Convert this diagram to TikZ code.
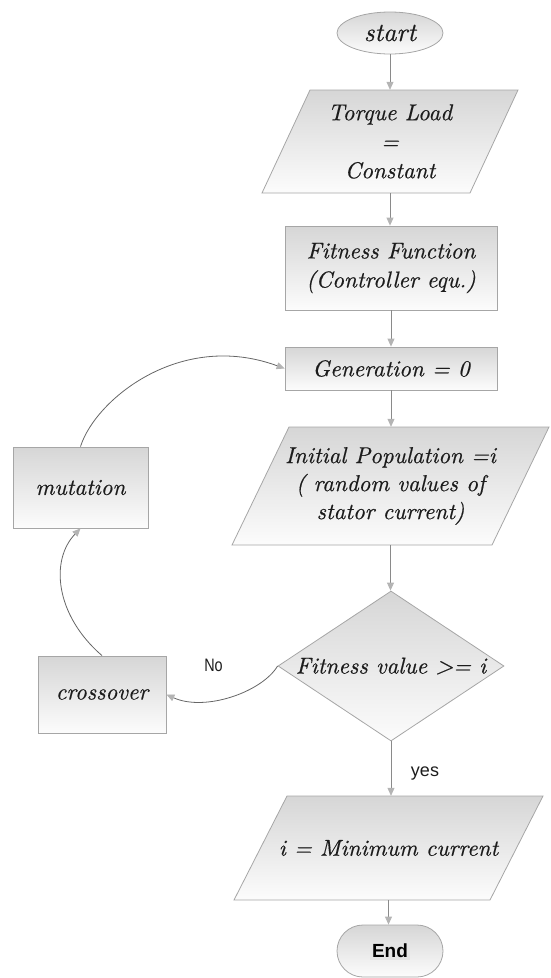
\documentclass[tikz,border=0pt]{standalone}
\usepackage{fontspec}
\newfontfamily\lsans{Liberation Sans}
\newfontface\scrface{lmroman10-italic.otf}[FakeBold=0.5]
\usetikzlibrary{shapes.geometric,shapes.misc,arrows.meta}
\definecolor{bord}{HTML}{A6A6A6}
\definecolor{topc}{HTML}{D6D6D6}
\definecolor{botc}{HTML}{FCFCFC}
\definecolor{linec}{HTML}{8A8A8A}
\definecolor{tipc}{HTML}{B4B4B4}
\definecolor{curvec}{HTML}{666666}
\definecolor{txt}{HTML}{1C1C1C}
\definecolor{endbg}{HTML}{E4E4E4}
\newcommand\scrf{\scrface\fontsize{23}{29}\selectfont}
\tikzset{
  box/.style={draw=bord, line width=0.8pt, top color=topc, bottom color=botc,
    text=txt, font=\scrf, align=center, inner sep=0pt},
  rectbox/.style={box, rectangle},
  parafill/.style={draw=bord, line width=0.8pt, top color=topc, bottom color=botc},
  paratext/.style={rectangle, text=txt, font=\scrf, align=center, inner sep=0pt},
  decbox/.style={box, diamond},
  startbox/.style={box, ellipse},
  endbox/.style={box, rounded rectangle},
  lbl/.style={font=\lsans\fontsize{18}{20}\selectfont, text=txt, inner sep=0pt},
  flow/.style={draw=linec, line width=0.8pt,
    -{Triangle[length=8pt,width=7pt,color=tipc]}},
  curve/.style={draw=curvec, line width=0.8pt,
    -{Triangle[length=8pt,width=7pt,color=tipc]}}
}
\begin{document}
\begin{tikzpicture}[x=1pt,y=-1pt]
\useasboundingbox (0,0) rectangle (551,978);

% parallelogram bodies
\path[parafill] (310,90) -- (518,90) -- (470,193) -- (262,193) -- cycle;
\path[parafill] (289,427) -- (549,427) -- (492,545) -- (232,545) -- cycle;
\path[parafill] (287,796) -- (543,796) -- (490,900) -- (234,900) -- cycle;

\node[startbox, minimum width=106pt, minimum height=42pt,
  font=\scrface\fontsize{26}{30}\selectfont]
  (start) at (390,33) {start};
\node[paratext, minimum width=208pt, minimum height=103pt] (torque) at (390,141.5)
  {Torque Load\\=\\Constant};
\node[rectbox, minimum width=212pt, minimum height=84pt] (fit) at (391,268)
  {Fitness Function\\(Controller equ.)};
\node[rectbox, minimum width=212pt, minimum height=43pt] (gen) at (391,368.5)
  {Generation = 0};
\node[paratext, minimum width=260pt, minimum height=118pt,
  font=\scrface\fontsize{23}{28}\selectfont]
  (init) at (390.5,486)
  {Initial Population =i\\( random values of\\stator current)};
\node[decbox, minimum width=226pt, minimum height=150pt] (dec) at (391,666)
  {\makebox[0pt]{Fitness value >= i}};
\node[paratext, minimum width=256pt, minimum height=104pt] (minc) at (388.5,848)
  {i = Minimum current};
\node[endbox, minimum width=106pt, minimum height=52pt,
  font=\lsans\bfseries\fontsize{19}{22}\selectfont, text=black] (end) at (390,951)
  {\setlength{\fboxsep}{2pt}\colorbox{endbg}{End}};
\node[rectbox, minimum width=135pt, minimum height=81pt] (mut) at (80.5,487.5)
  {mutation};
\node[rectbox, minimum width=128pt, minimum height=77pt] (cross) at (102,694.5)
  {crossover};

\node[lbl, xscale=0.8] (no) at (213.5,665) {No};
\node[lbl] (yes) at (425,774) {yes};

\draw[flow] (start.south) -- (start.south |- torque.north);
\draw[flow] (torque.south) -- (torque.south |- fit.north);
\draw[flow] (fit.south) -- (gen.north);
\draw[flow] (gen.south) -- (gen.south |- init.north);
\draw[flow] (init.south) -- (init.south |- dec.north);
\draw[flow] (dec.south) -- (dec.south |- minc.north);
\draw[flow] (minc.south) -- (minc.south |- end.north);

\draw[curve] (dec.west) .. controls (262,692) and (205,712) .. (cross.east);
\draw[curve] (cross.north) .. controls (55,615) and (50,560) .. (mut.south);
\draw[curve] (mut.north) .. controls (95,400) and (180,330) .. (gen.west);
\end{tikzpicture}
\end{document}
